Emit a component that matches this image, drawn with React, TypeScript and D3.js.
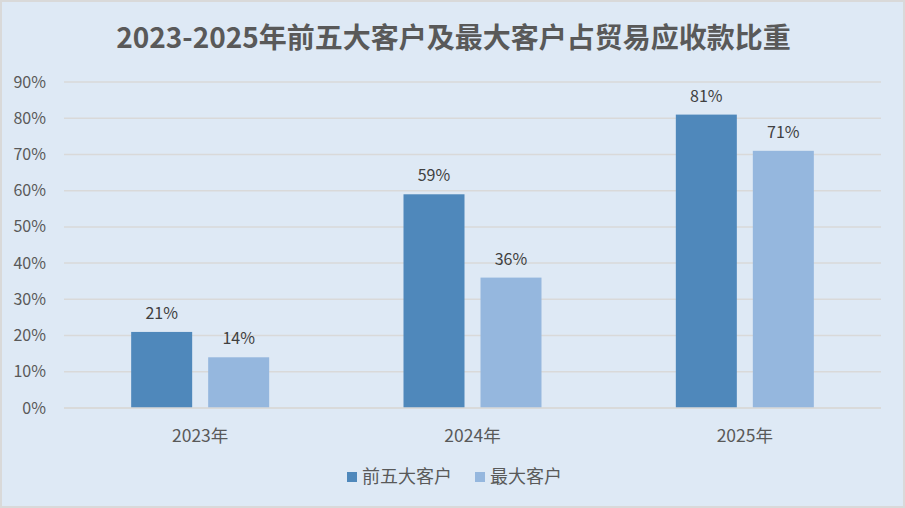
import React from 'react'
import * as d3 from 'd3'

const title = '2023-2025年前五大客户及最大客户占贸易应收款比重'
const categories = ['2023年', '2024年', '2025年']
const seriesNames = ['前五大客户', '最大客户']
const top5Values = [21, 59, 81]
const largestValues = [14, 36, 71]
const yTicks = [0, 10, 20, 30, 40, 50, 60, 70, 80, 90]
const colors = ['#4f88bb', '#95b7de']

const W = 905
const H = 508
const margin = { top: 82, right: 24, bottom: 100, left: 64 }
const FONT = '"Noto Sans CJK SC", "Microsoft YaHei", sans-serif'

export default function App() {
  const series = [top5Values, largestValues]
  const x = d3
    .scaleBand<string>()
    .domain(categories)
    .range([margin.left, W - margin.right])
  const barW = 61
  const gap = 16
  const y = d3
    .scaleLinear()
    .domain([0, 90])
    .range([H - margin.bottom, margin.top])

  const offsets = [-(gap / 2 + barW), gap / 2]

  return (
    <div style={{ position: 'fixed', left: 0, top: 0 }}>
      <svg width={W} height={H} style={{ display: 'block', fontFamily: FONT }}>
        <rect x={1} y={1} width={W - 2} height={H - 2} fill="#dee9f5" stroke="#d9d9d9" strokeWidth={2} />
        <text x={W / 2 + 1} y={48} textAnchor="middle" fontSize={28} fontWeight="bold" fill="#595959">
          {title}
        </text>

        {/* grid + y ticks */}
        {yTicks.map((t) => (
          <g key={t}>
            <line
              x1={margin.left}
              x2={W - margin.right}
              y1={y(t)}
              y2={y(t)}
              stroke="#d9d9d9"
              strokeWidth={1.5}
            />
            <text x={46} y={y(t) + 5.5} textAnchor="end" fontSize={16} fill="#595959">
              {t}%
            </text>
          </g>
        ))}

        {/* bars */}
        {series.map((vals, si) =>
          categories.map((c, i) => {
            const cx = (x(c) ?? 0) + x.bandwidth() / 2
            const bx = cx + offsets[si]
            return (
              <g key={`${si}-${c}`}>
                <rect x={bx} y={y(vals[i])} width={barW} height={y(0) - y(vals[i])} fill={colors[si]} />
                <text
                  x={bx + barW / 2}
                  y={y(vals[i]) - 13}
                  textAnchor="middle"
                  fontSize={16}
                  fill="#404040"
                >
                  {vals[i]}%
                </text>
              </g>
            )
          })
        )}

        {/* x axis */}
        <line
          x1={margin.left}
          x2={W - margin.right}
          y1={y(0)}
          y2={y(0)}
          stroke="#d9d9d9"
          strokeWidth={1.5}
        />
        {categories.map((c) => (
          <text
            key={c}
            x={(x(c) ?? 0) + x.bandwidth() / 2}
            y={y(0) + 34}
            textAnchor="middle"
            fontSize={17.5}
            fill="#595959"
          >
            {c}
          </text>
        ))}

        {/* legend */}
        {seriesNames.map((n, i) => {
          const lx = 347 + i * 128
          return (
            <g key={n}>
              <rect x={lx} y={472} width={10} height={10} fill={colors[i]} />
              <text x={lx + 15} y={483} fontSize={18} fill="#595959">
                {n}
              </text>
            </g>
          )
        })}
      </svg>
    </div>
  )
}
